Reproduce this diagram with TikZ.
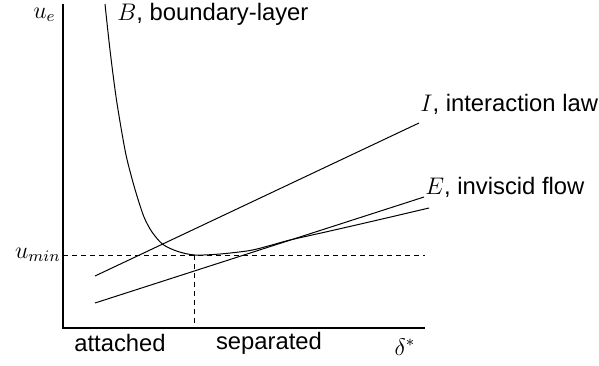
\documentclass[tikz,border=0pt]{standalone}
\usepackage{fontspec}
\setsansfont{Liberation Sans}
\begin{document}
\begin{tikzpicture}[x=0.5pt,y=-0.5pt,
  lbl/.style={inner sep=0pt,font=\fontsize{11.9}{14}\selectfont\sffamily},
  mlbl/.style={inner sep=0pt,font=\fontsize{11.9}{14}\selectfont},
  axis/.style={line width=0.6pt},
  curve/.style={line width=0.5pt},
  guide/.style={line width=0.5pt,dash pattern=on 2.5pt off 2pt}]
\useasboundingbox (0,0) rectangle (599,365);
% axes
\coordinate (top) at (63,4);
\coordinate (orig) at (63,328);
\coordinate (xend) at (425,328);
\draw[axis] (top) -- (orig) -- (xend);
% guides
\coordinate (umin) at (63,255);
\coordinate (uminR) at (425,255);
\coordinate (mn) at (194,255);
\coordinate (mnB) at (194,328);
\draw[guide] (umin) -- (uminR);
\draw[guide] (mn) -- (mnB);
% I line
\coordinate (I0) at (95,276);
\coordinate (I1) at (419,123);
\draw[curve] (I0) -- (I1);
% E line
\coordinate (E0) at (95,303);
\coordinate (E1) at (424,197);
\draw[curve] (E0) -- (E1);
% B curve
\draw[curve] plot[smooth,tension=0.5] coordinates {(105,4) (110,50) (116.5,100) (125,150) (131,175) (137,196) (144,217) (152,232) (163,244.5) (178,251.5) (195,255) (220,254) (250,250.5) (270,245.5) (290,240) (330,231) (380,219.5) (429,208)};
% labels
\node[mlbl,anchor=east] (ue) at (56,15) {$u_e$};
\node[mlbl,anchor=east] (uminl) at (61,255) {$u_{min}$};
\node[lbl,anchor=west] (Bl) at (117,14) {$B$, boundary-layer};
\node[lbl,anchor=west] (Il) at (420,104) {$I$, interaction law};
\node[lbl,anchor=west] (El) at (425,187) {$E$, inviscid flow};
\node[lbl] (att) at (120,343) {attached};
\node[lbl] (sep) at (269,343) {separated};
\node[mlbl] (dl) at (405,347) {$\delta^*$};
\end{tikzpicture}
\end{document}
